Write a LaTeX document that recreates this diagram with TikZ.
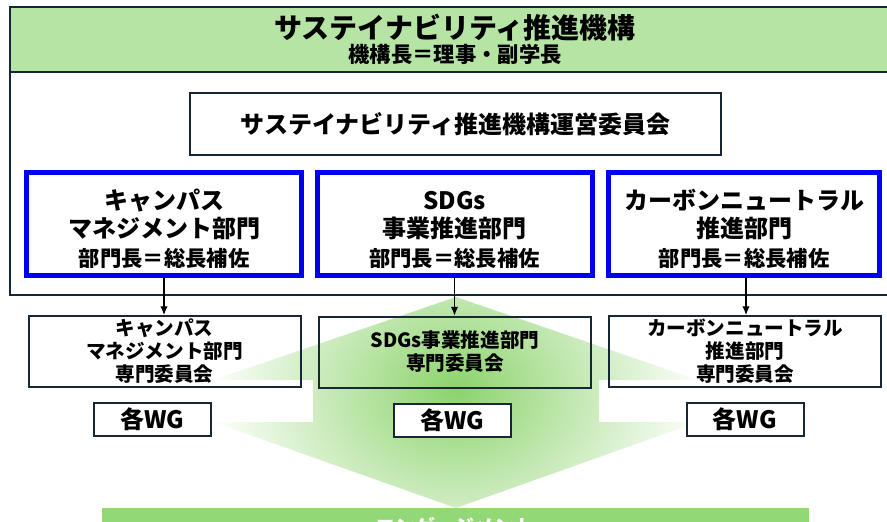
\documentclass[tikz,border=0pt]{standalone}
\usepackage{fontspec}
\setmainfont{Noto Sans CJK JP}
\usetikzlibrary{arrows.meta}

\definecolor{headgreen}{RGB}{181,228,164}
\definecolor{framenavy}{RGB}{22,40,56}
\definecolor{bumonblue}{RGB}{0,0,240}
\definecolor{glowgreen}{RGB}{140,211,108}
\definecolor{bargreen}{RGB}{146,216,118}

\newcommand{\chosa}[1]{\\[1pt]{\fontsize{16pt}{21pt}\selectfont #1}}

\tikzset{
  bumon/.style={draw=bumonblue, line width=3.75pt, fill=white, inner sep=0pt,
    minimum width=206.25pt, minimum height=77.25pt, align=center,
    font=\bfseries\fontsize{18pt}{21pt}\selectfont},
  senmon/.style={draw=framenavy, line width=1.5pt, inner sep=0pt,
    minimum width=204pt, minimum height=53.25pt, align=center,
    font=\bfseries\fontsize{14.7pt}{17.25pt}\selectfont},
  wg/.style={draw=framenavy, line width=1.5pt, fill=white, inner sep=0pt,
    minimum width=87.75pt, minimum height=24.75pt,
    font=\bfseries\fontsize{18pt}{21pt}\selectfont},
  arr/.style={-{Latex[length=6.5pt,width=5.5pt]}, line width=0.8pt}
}

\begin{document}
\begin{tikzpicture}[x=0.75pt,y=-0.75pt]
  \useasboundingbox (0,0) rectangle (887,521);

  % green glow behind the committees
  \begin{scope}
    \clip (456,297) -- (213,380) -- (313,380) -- (313,422) -- (213,422) -- (456,508)
      -- (698,422) -- (599,422) -- (599,380) -- (698,380) -- cycle;
    \shade[inner color=glowgreen, outer color=white] (456,390) ellipse (250 and 200);
  \end{scope}

  % bottom bar
  \fill[bargreen] (102,508) rectangle (809,540);
  \node[text=white, font=\bfseries\fontsize{15pt}{18pt}\selectfont] (engage) at (455,527) {エンゲージメント};

  % header and frame
  \fill[headgreen] (10,7) rectangle (900,72);
  \draw[framenavy, line width=1.5pt] (10,7) rectangle (900,295);
  \draw[framenavy, line width=1.5pt] (10,72) -- (900,72);
  \node[font=\bfseries\fontsize{21pt}{24pt}\selectfont] (title) at (455,28) {サステイナビリティ推進機構};
  \node[font=\bfseries\fontsize{16pt}{19pt}\selectfont] (chief) at (455,54) {機構長＝理事・副学長};

  \node[draw=framenavy, line width=1.1pt, inner sep=0pt, minimum width=398.25pt, minimum height=46.5pt,
    font=\bfseries\fontsize{18pt}{21pt}\selectfont] (unei) at (455.5,124) {サステイナビリティ推進機構運営委員会};

  % the three divisions
  \node[bumon] (bCampus) at (164,224) {\rule{0pt}{23pt}キャンパス\\マネジメント部門\chosa{部門長＝総長補佐}};
  \node[bumon] (bSDGs) at (454.5,224) {\rule{0pt}{23pt}SDGs\\事業推進部門\chosa{部門長＝総長補佐}};
  \node[bumon, minimum width=203.25pt] (bCarbon) at (744,224) {\rule{0pt}{23pt}カーボンニュートラル\\推進部門\chosa{部門長＝総長補佐}};

  % committees
  \node[senmon] (cCampus) at (164.5,351.5) {キャンパス\\マネジメント部門\\専門委員会};
  \node[senmon] (cSDGs) at (455,352) {SDGs事業推進部門\\専門委員会};
  \node[senmon] (cCarbon) at (745,351.5) {カーボンニュートラル\\推進部門\\専門委員会};

  \node[wg] (wCampus) at (152.5,419.5) {各WG};
  \node[wg] (wSDGs) at (452.5,420.5) {各WG};
  \node[wg] (wCarbon) at (745,419.5) {各WG};

  \draw[arr] (bCampus.south) -- (bCampus.south |- cCampus.north);
  \draw[arr] (bSDGs.south) -- (bSDGs.south |- cSDGs.north);
  \draw[arr] ([xshift=1.5pt]bCarbon.south) -- ([xshift=1.5pt]bCarbon.south |- cCarbon.north);
\end{tikzpicture}
\end{document}
